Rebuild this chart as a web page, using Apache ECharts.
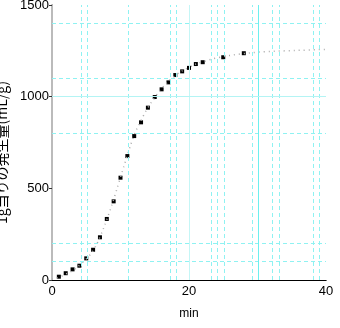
<!DOCTYPE html>
<html>
<head>
<meta charset="utf-8">
<script src="https://cdn.jsdelivr.net/npm/echarts@6/dist/echarts.min.js"></script>
<style>
  html, body { margin: 0; padding: 0; background: #fff; }
  #chart { width: 340px; height: 328px; }
</style>
</head>
<body>
<div id="chart"></div>
<script>
// measured points (min, mL/g)
const minutes = [1, 2, 3, 4, 5, 6, 7, 8, 9, 10, 11, 12, 13, 14, 15, 16, 17, 18, 19, 20, 21, 22, 25, 28]
const volume = [18, 37, 58, 78, 118, 165, 233, 333, 429, 558, 676, 785, 860, 940, 998, 1040, 1078, 1118, 1138, 1157, 1178, 1188, 1215, 1237]

// fitted curve
const fitX = [0, 1, 2, 3, 4, 5, 6, 7, 8, 9, 10, 11, 12, 13, 14, 15, 16, 18, 20, 22, 25, 28, 31, 34, 37, 40]
const fitY = [5, 15, 32, 52, 80, 115, 160, 235, 330, 440, 560, 680, 790, 870, 940, 995, 1045, 1115, 1160, 1190, 1218, 1235, 1245, 1250, 1254, 1258]

// odd guide lines in the original
const vDashed = [4.2, 5.15, 11.1, 17.2, 18.1, 23.2, 24.1, 25.2, 29.2, 32.2, 33.2, 38.1, 39.0]
const hDashed = [100, 200, 800, 1100, 1400]

const font = "'Liberation Sans', Arial, sans-serif"

const guides = []
vDashed.forEach(v => guides.push({ xAxis: v, lineStyle: { type: [4, 3], color: '#8ff2f2' } }))
hDashed.forEach(v => guides.push({ yAxis: v, lineStyle: { type: [4, 3], color: '#8ff2f2' } }))
guides.push({ xAxis: 20, lineStyle: { type: 'solid', color: '#c4f6f6' } })
guides.push({ xAxis: 30.1, lineStyle: { type: 'solid', color: '#6cf0f0' } })
guides.push({ yAxis: 1000, lineStyle: { type: 'solid', color: '#b4f4f4' } })

const chart = echarts.init(document.querySelector('#chart'))
chart.setOption({
  animation: false,
  grid: { left: 52, right: 14, top: 5, bottom: 48, containLabel: false, outerBoundsMode: 'none' },
  xAxis: [{
    type: 'value',
    min: 0, max: 40, interval: 20,
    name: 'min',
    nameLocation: 'middle',
    nameGap: 28,
    nameTextStyle: { color: '#000', fontSize: 12, fontFamily: font },
    axisLine: { lineStyle: { color: '#333', width: 1 } },
    axisTick: { show: false },
    splitLine: { show: false },
    axisLabel: { color: '#000', fontSize: 13, fontFamily: font, margin: 5, formatter: v => String(v) }
  }, {
    type: 'value',
    position: 'top',
    min: 0, max: 40,
    axisLine: { show: true, lineStyle: { color: '#000' } },
    axisTick: { show: false },
    axisLabel: { show: false },
    splitLine: { show: false }
  }],
  yAxis: [{
    type: 'value',
    min: 0, max: 1500, interval: 500,
    name: '1g当りの発生量(mL/g)',
    nameLocation: 'middle',
    nameGap: 25,
    nameTextStyle: { color: '#000', fontSize: 14, fontFamily: "'Noto Sans CJK JP', sans-serif", padding: [0, 20, 0, 0] },
    axisLine: { show: true, lineStyle: { color: '#333', width: 1 } },
    axisTick: { show: true, length: 3, inside: false, lineStyle: { color: '#333' } },
    splitLine: { show: false },
    axisLabel: { color: '#000', fontSize: 13, fontFamily: font, margin: 3, formatter: v => String(v) }
  }, {
    type: 'value',
    position: 'right',
    min: 0, max: 1500,
    axisLine: { show: true, lineStyle: { color: '#bbb', width: 2 } },
    axisTick: { show: false },
    axisLabel: { show: false },
    splitLine: { show: false }
  }],
  series: [{
    name: 'guides',
    type: 'line',
    data: [],
    silent: true,
    markLine: {
      silent: true,
      symbol: 'none',
      label: { show: false },
      lineStyle: { width: 1 },
      data: guides
    }
  }, {
    name: 'fit',
    type: 'line',
    smooth: true,
    showSymbol: false,
    data: fitX.map((x, i) => [x, fitY[i]]),
    lineStyle: { color: '#aaa', width: 1.5, type: [1, 4] }
  }, {
    name: 'data',
    type: 'scatter',
    symbol: 'rect',
    symbolSize: 4,
    data: minutes.map((m, i) => [m, volume[i]]),
    itemStyle: { color: '#000', opacity: 1 }
  }]
})
</script>
</body>
</html>
